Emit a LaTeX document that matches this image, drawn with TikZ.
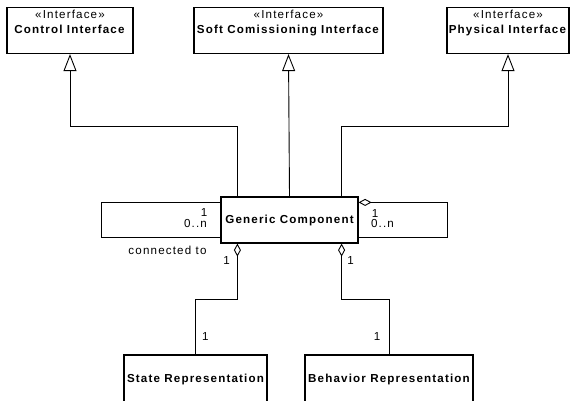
\documentclass[tikz,border=0pt]{standalone}
\usepackage{fontspec}
\setmainfont{Liberation Sans}[LetterSpace=10]
\usetikzlibrary{arrows.meta,calc}

\begin{document}
\begin{tikzpicture}[x=1pt,y=-1pt,
  txt/.style={font=\fontsize{11.6}{15}\selectfont, inner sep=0pt},
  classbox/.style={draw, line width=1.2pt, inner sep=0pt, minimum height=46pt,
    font=\fontsize{11.6}{15}\selectfont\bfseries},
  partbox/.style={classbox, minimum height=50pt, text height=9pt, text depth=3.6pt},
  boxtext/.style={txt, anchor=north, align=center},
  realize/.style={line width=0.9pt, -{Triangle[open, length=17pt, width=13pt, line width=0.9pt]}},
  aggr/.style={line width=0.9pt, {Diamond[open, length=13pt, width=7pt, line width=0.9pt]}-},
  assoc/.style={line width=0.9pt},
  mult/.style={txt, anchor=base}]

\useasboundingbox (0,0) rectangle (570,401);

% interfaces
\node[classbox, minimum width=126pt] (ctrl) at (70,30.5) {};
\node[boxtext] (ctrlt) at ($(ctrl.north)+(0,3.5)$) {«Interface»\\\textbf{Control Interface}};
\node[classbox, minimum width=189pt] (soft) at (288.5,30.5) {};
\node[boxtext] (softt) at ($(soft.north)+(0,3.5)$) {«Interface»\\\textbf{Soft Comissioning Interface}};
\node[classbox, minimum width=122pt] (phys) at (508,30.5) {};
\node[boxtext] (physt) at ($(phys.north)+(0,3.5)$) {«Interface»\\\textbf{Physical Interface}};

% central class and its parts
\node[classbox, minimum width=137pt] (gc) at (289.5,220) {Generic Component};
\node[partbox, minimum width=143pt] (state) at (195.5,380) {State Representation};
\node[partbox, minimum width=168pt] (behav) at (389,380) {Behavior Representation};

% realizations
\draw[realize] ($(gc.north west)+(17,0)$) |- ($(ctrl.south)+(0,72)$) -- (ctrl.south);
\draw[realize] (gc.north) -- (soft.south);
\draw[realize] ($(gc.north east)+(-17,0)$) |- ($(phys.south)+(0,72)$) -- (phys.south);

% self associations
\draw[assoc] ($(gc.north west)+(0,6)$) -- ++(-119,0) |- ($(gc.south west)+(0,-6)$);
\draw[aggr] ($(gc.north east)+(0,6)$) -- ++(89,0) |- ($(gc.south east)+(0,-6)$);

% aggregations
\draw[aggr] ($(gc.south west)+(17,0)$) -- ++(0,56) -| (state.north);
\draw[aggr] ($(gc.south east)+(-17,0)$) -- ++(0,56) -| (behav.north);

% multiplicities and role names
\node[mult] (m1) at (204,216.5) {1};
\node[mult] (m2) at (195.5,227.8) {0..n};
\node[mult] (conn) at (167.5,254.3) {connected to};
\node[mult] (m3) at (375,217) {1};
\node[mult] (m4) at (382.5,227.8) {0..n};
\node[mult] (m5) at (226.5,264) {1};
\node[mult] (m6) at (350.7,264) {1};
\node[mult] (m7) at (205.3,340) {1};
\node[mult] (m8) at (377,340) {1};
\end{tikzpicture}
\end{document}
